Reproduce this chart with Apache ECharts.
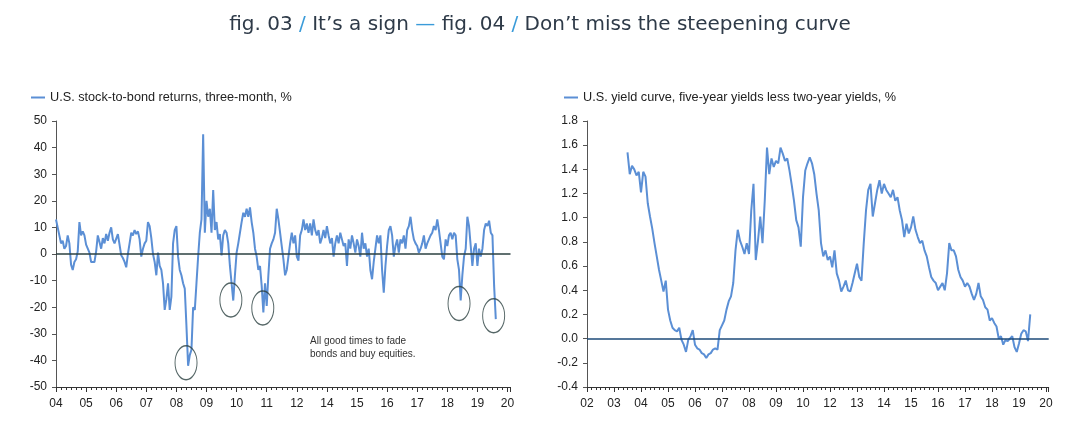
<!DOCTYPE html>
<html>
<head>
<meta charset="utf-8">
<script src="https://cdn.jsdelivr.net/npm/echarts@6/dist/echarts.min.js"></script>
<style>
  html, body { margin: 0; padding: 0; background: #fff; }
  #chart { width: 1080px; height: 425px; }
</style>
</head>
<body>
<div id="chart"></div>
<script>
// fig. 03: three-month stock-to-bond returns, %, one point every 1/18 of an axis slot from '04
const stockBondLabels = ['04', '05', '06', '07', '08', '09', '10', '11', '12', '14', '15', '16', '17', '18', '19', '20'];
const stockBondStart = 0;
const stockBondStep = 1 / 18;
const stockBondReturns = [
  13, 10, 7, 4, 5, 2, 3, 7, 4, -4,
  -6, -3, -2, 1, 12, 7, 8.5, 7, 3.5, 4,
  0.5, -3, -2.5, -3, 1, 7, 4.5, 2, 6, 4,
  7.5, 5, 8, 10, 5.5, 4, 3.5, 7.5, 3.5, -0.5,
  -1.5, -3, -5, 0, 4, 8, 7, 9, 7.5, 8.5,
  5.5, -1, 2, 4, 5, 12, 10.5, 6, 0, -3,
  -8, 0.5, -4.5, -6, -11, -21, -17, -11, -21, -16,
  4, 9, 10.5, -1, -6, -8, -11, -13, -27, -42,
  -38, -36, -20, -21, -11, -1, 8, 13, 45, 8,
  20, 14, 17, 8, 24, 9, 12, 5.5, 7.5, -0.5,
  7, 9, 8, 4, -4.5, -11, -17.5, -8, 0.5, 4,
  8, 12, 15.5, 14, 17, 14, 17.5, 12, 8, 2,
  -1, -6, -4.5, -12, -22, -11, -19.5, -8, 2, 4,
  5.5, 8, 17, 13, 8, 3, -2, -8, -6, -1,
  4, 8, 4, 7, -1, -2.5, 7, 9, 13, 9,
  11.5, 8, 11.5, 7, 13, 9, 7, 9, 4, 6,
  9, 6, 10.5, 7, 4, 6, -1, 4, 7, 4,
  8, 5.5, 3, 4, -4.5,
  5.5, 2, 7, 4, 0.5, 5.5, 3, -1, 8, 2,
  4, -1, 2, -6, -9.5, -3, 2, 7, 4, 7,
  -6, -14.5, -4.5, 3, 9, 10.5, 7, -1, 3, 5.5,
  0.5, 5.5, 4, 7, 2, 9, 10.5, 14, 9, 5.5,
  4, 3, 0.5, 2, 4, 7, 2, 4, 5.5, 7,
  8, 10.5, 9, 13, 9, 4, -1, -2, 5.5, 3,
  7, 8, 5.5, 8, 7, -2, -6, -17.5, -8, -1,
  2, 14, 10.5, 3, -4.5, 2, 4, -4.5, 2, -1,
  2, 9, 11.5, 10.5, 12.5, 8, 7, -12, -24.5
];
// circled troughs (axis slot, %)
const troughMarks = [[4.32, -40.9], [5.81, -17.3], [6.87, -20.3], [13.39, -18.6], [14.54, -23.2]];

// fig. 04: five-year less two-year yields, %, monthly from mid-'03
const yieldLabels = ['02', '03', '04', '05', '06', '07', '08', '09', '10', '12', '13', '14', '15', '16', '17', '18', '19', '20'];
const yieldStart = 1.5;
const yieldStep = 1 / 12;
const yieldCurve = [
  1.54, 1.36, 1.43, 1.40, 1.35, 1.38, 1.21, 1.38, 1.34, 1.12,
  1.01, 0.91, 0.79, 0.68, 0.57, 0.48, 0.39, 0.48, 0.24, 0.15,
  0.09, 0.07, 0.06, 0.09, -0.01, -0.05, -0.11, -0.01, 0.02, 0.07,
  -0.05, -0.08, -0.09, -0.12, -0.13, -0.16, -0.13, -0.12, -0.09, -0.08,
  -0.09, 0.07, 0.11, 0.15, 0.24, 0.31, 0.35, 0.46, 0.73, 0.90,
  0.81, 0.76, 0.70, 0.79, 0.70, 1.06, 1.28, 0.65, 0.81, 1.01,
  0.79, 1.14, 1.58, 1.36, 1.49, 1.42, 1.47, 1.45, 1.58, 1.53,
  1.47, 1.49, 1.39, 1.27, 1.14, 0.98, 0.92, 0.76, 1.17, 1.39,
  1.45,
  1.50, 1.45, 1.36, 1.20, 1.06, 0.79, 0.68, 0.73, 0.65, 0.68,
  0.59, 0.73, 0.54, 0.48, 0.39, 0.43, 0.48, 0.40, 0.39, 0.46,
  0.54, 0.62, 0.51, 0.48, 0.79, 1.06, 1.23, 1.28, 1.01, 1.12,
  1.23, 1.31, 1.20, 1.28, 1.23, 1.20, 1.17, 1.23, 1.14, 1.17,
  1.06, 0.98, 0.84, 0.95, 0.87, 0.92, 1.01, 0.90, 0.84, 0.79,
  0.81, 0.73, 0.68, 0.59, 0.51, 0.48, 0.46, 0.40, 0.43, 0.46,
  0.40, 0.54, 0.79, 0.73, 0.73, 0.68, 0.57, 0.51, 0.48, 0.43,
  0.46, 0.43, 0.37, 0.32, 0.37, 0.46, 0.35, 0.32, 0.26, 0.24,
  0.15, 0.17, 0.13, 0.10, 0.00, 0.02, -0.05, -0.01, -0.02, 0.00,
  0.02, -0.07, -0.11, -0.04, 0.04, 0.07, 0.06, -0.02, 0.20
];

const leftName = 'U.S. stock-to-bond returns, three-month, %';
const rightName = 'U.S. yield curve, five-year yields less two-year yields, %';

const font = 'Liberation Sans';
const titleFont = 'DejaVu Sans';
const lineBlue = '#5b8fd5';
const textColor = '#222';
const axisColor = '#555';

const chart = echarts.init(document.getElementById('chart'));

function xAxisFor(labels, gridIndex) {
  return {
    type: 'value',
    gridIndex: gridIndex,
    min: 0,
    max: labels.length - 1 + 0.1,
    interval: 1,
    splitLine: { show: false },
    axisLine: { onZero: false, lineStyle: { color: '#333', width: 1 } },
    axisTick: { show: true, length: 5, lineStyle: { color: '#333' } },
    minorTick: { show: true, splitNumber: 6, length: 3, lineStyle: { color: '#333' } },
    axisLabel: {
      color: textColor,
      fontFamily: font,
      fontSize: 12,
      margin: 11,
      formatter: (v) => (Number.isInteger(v) && labels[v] !== undefined ? labels[v] : '')
    }
  };
}

function yAxisFor(gridIndex, min, max, interval, digits) {
  return {
    type: 'value',
    gridIndex: gridIndex,
    min: min,
    max: max,
    interval: interval,
    splitLine: { show: false },
    axisLine: { show: true, lineStyle: { color: axisColor, width: 1 } },
    axisTick: { show: true, length: 4, lineStyle: { color: axisColor } },
    axisLabel: {
      color: textColor,
      fontFamily: font,
      fontSize: 12,
      margin: 9,
      formatter: (v) => v.toFixed(digits)
    }
  };
}

const legendText = { fontFamily: font, fontSize: 12.7, color: textColor };

const option = {
  animation: false,
  backgroundColor: '#fff',
  title: {
    text: '{d|fig. 03 }{b|/}{d| It’s a sign }{b|—}{d| fig. 04 }{b|/}{d| Don’t miss the steepening curve}',
    left: 'center',
    top: 10,
    textStyle: {
      rich: {
        d: { fontFamily: titleFont, fontSize: 20, fontWeight: 'normal', color: '#2e3a48' },
        b: { fontFamily: titleFont, fontSize: 20, fontWeight: 'normal', color: '#3a9bd9' }
      }
    }
  },
  legend: [
    {
      data: [leftName],
      left: 31,
      top: 91,
      padding: 0,
      icon: 'rect',
      itemWidth: 14,
      itemHeight: 2,
      textStyle: legendText
    },
    {
      data: [rightName],
      left: 564,
      top: 91,
      padding: 0,
      icon: 'rect',
      itemWidth: 14,
      itemHeight: 2,
      textStyle: legendText
    }
  ],
  grid: [
    { left: 56, top: 121, width: 15.1 * 30.1, height: 266 },
    { left: 587, top: 121, width: 17.1 * 27, height: 266 }
  ],
  xAxis: [xAxisFor(stockBondLabels, 0), xAxisFor(yieldLabels, 1)],
  yAxis: [yAxisFor(0, -50, 50, 10, 0), yAxisFor(1, -0.4, 1.8, 0.2, 1)],
  graphic: [
    {
      type: 'text',
      left: 310,
      top: 335,
      style: {
        text: 'All good times to fade\nbonds and buy equities.',
        fontFamily: font,
        fontSize: 10,
        lineHeight: 12.5,
        fill: '#333'
      }
    }
  ],
  series: [
    {
      name: leftName,
      type: 'line',
      xAxisIndex: 0,
      yAxisIndex: 0,
      data: stockBondReturns.map((v, i) => [stockBondStart + i * stockBondStep, v]),
      showSymbol: false,
      symbol: 'none',
      color: lineBlue,
      lineStyle: { color: lineBlue, width: 2 },
      markLine: {
        silent: true,
        symbol: 'none',
        label: { show: false },
        lineStyle: { color: '#2b4040', width: 1.5, type: 'solid' },
        data: [{ yAxis: 0 }]
      },
      z: 2
    },
    {
      name: 'troughs',
      type: 'scatter',
      xAxisIndex: 0,
      yAxisIndex: 0,
      data: troughMarks,
      symbol: 'circle',
      symbolSize: [22, 34],
      silent: true,
      itemStyle: { color: 'rgba(0,0,0,0)', borderColor: '#2b4040', borderWidth: 1.2 },
      z: 3
    },
    {
      name: rightName,
      type: 'line',
      xAxisIndex: 1,
      yAxisIndex: 1,
      data: yieldCurve.map((v, i) => [yieldStart + i * yieldStep, v]),
      showSymbol: false,
      symbol: 'none',
      color: lineBlue,
      lineStyle: { color: lineBlue, width: 2 },
      markLine: {
        silent: true,
        symbol: 'none',
        label: { show: false },
        lineStyle: { color: '#1d4a78', width: 1.5, type: 'solid' },
        data: [{ yAxis: 0 }]
      },
      z: 2
    }
  ]
};

chart.setOption(option);
</script>
</body>
</html>
